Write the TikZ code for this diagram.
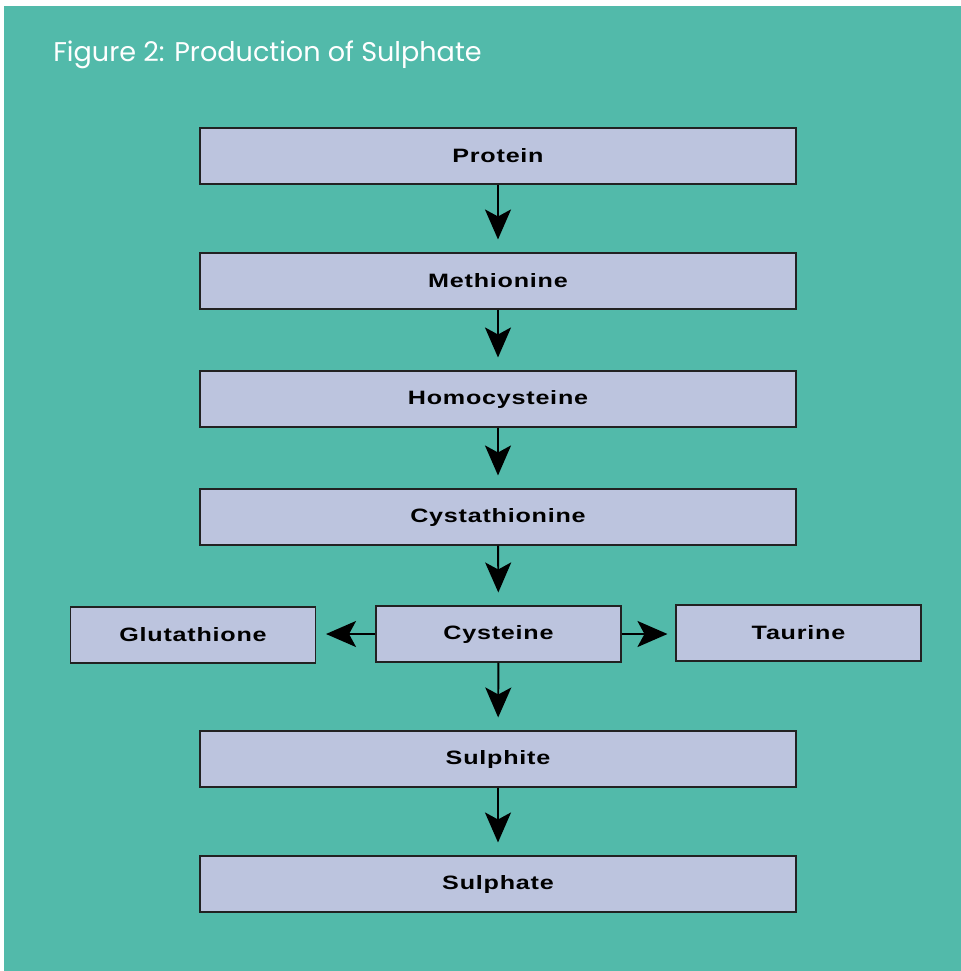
\documentclass[tikz,border=0pt]{standalone}
\usepackage{fontspec}
\setmainfont{Liberation Sans}
\newfontfamily\boxfont[FakeStretch=1.3, LetterSpace=4]{Liberation Sans}
\newfontfamily\titlefont{Poppins}
\usetikzlibrary{arrows.meta,positioning}
\definecolor{teal1}{HTML}{52BAAA}
\definecolor{lilac}{HTML}{BCC4DE}
\definecolor{edge1}{HTML}{222222}

\begin{document}
\begin{tikzpicture}[
    stage/.style={draw=edge1, line width=0.6pt, minimum width=11.92cm, minimum height=1.12cm, fill=lilac, font=\boxfont\bfseries\fontsize{11}{13}\selectfont},
    side/.style={stage, minimum width=4.9cm},
    flow/.style={-{Stealth[length=0.6cm, width=0.52cm, inset=0.14cm]}, line width=1.1pt, color=black},
]

\useasboundingbox (0,0) rectangle (19.22,-19.42);
\fill[teal1] (0.08,-0.12) rectangle (19.22,-19.42);

\node[anchor=base west, text=white, inner sep=0pt, font=\titlefont\fontsize{15.4}{18}\selectfont] (title) at (1.06,-1.22) {Figure 2: Production of Sulphate};

\node[stage] (protein) at (9.96, -3.12) {Protein};
\node[stage] (methionine) at (9.96, -5.62) {Methionine};
\node[stage] (homocysteine) at (9.96, -7.98) {Homocysteine};
\node[stage] (cystathionine) at (9.96, -10.34) {Cystathionine};
\node[side] (cysteine) at (9.97, -12.68) {Cysteine};
\node[side] (glutathione) at (3.86, -12.70) {Glutathione};
\node[side] (taurine) at (15.97, -12.66) {Taurine};
\node[stage] (sulphite) at (9.96, -15.18) {Sulphite};
\node[stage] (sulphate) at (9.96, -17.68) {Sulphate};

\draw[flow, shorten >=0.26cm] (protein) -- (methionine);
\draw[flow, shorten >=0.26cm] (methionine) -- (homocysteine);
\draw[flow, shorten >=0.26cm] (homocysteine) -- (cystathionine);
\draw[flow, shorten >=0.26cm] (cystathionine) -- (cysteine);
\draw[flow, shorten >=0.2cm] (cysteine.west) -- (glutathione.east |- cysteine.west);
\draw[flow, shorten >=0.16cm] (cysteine.east) -- (taurine.west |- cysteine.east);
\draw[flow, shorten >=0.26cm] (cysteine) -- (sulphite);
\draw[flow, shorten >=0.26cm] (sulphite) -- (sulphate);

\end{tikzpicture}
\end{document}
